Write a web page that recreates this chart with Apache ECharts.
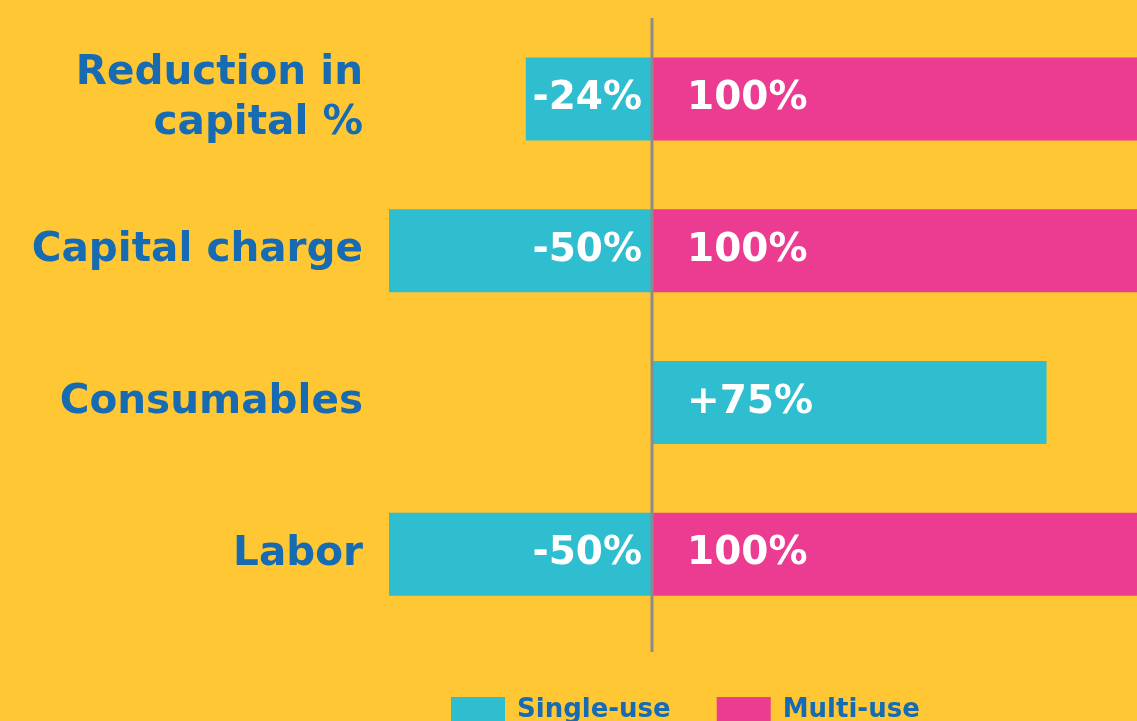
<!DOCTYPE html>
<html>
<head>
<meta charset="utf-8">
<script src="https://cdn.jsdelivr.net/npm/echarts@6/dist/echarts.min.js"></script>
<style>
  html, body { margin: 0; padding: 0; background: #FFC733; }
  #chart { width: 1137px; height: 721px; }
</style>
</head>
<body>
<div id="chart"></div>
<script>
const categories = ['Reduction in\ncapital %', 'Capital charge', 'Consumables', 'Labor']
const singleUse = [-24, -50, 75, -50]
const multiUse = [100, 100, null, 100]
const seriesNames = ['Single-use', 'Multi-use']

const FONT = '"DejaVu Sans", Verdana, sans-serif'
const BLUE = '#166BB3'
const CYAN = '#2EBECF'
const PINK = '#EB3C92'

const fmt = v => (v > 0 && v < 100 ? '+' : '') + v + '%'

const chart = echarts.init(document.getElementById('chart'))

// nudge the two-line label up
const labelPad = [[0, 0, 26, 0], [0, 0, 0, 0], [0, 0, 0, 0], [0, 0, 0, 0]]

const option = {
  backgroundColor: '#FFC733',
  animation: false,
  grid: { left: 389, right: 0, top: 23, bottom: 91 },
  legend: {
    data: seriesNames,
    left: 451,
    top: 697,
    padding: 0,
    itemWidth: 54,
    itemHeight: 27,
    itemGap: 46,
    icon: 'rect',
    textStyle: { color: BLUE, fontFamily: FONT, fontWeight: 'bold', fontSize: 26, padding: [0, 0, 0, 7] }
  },
  xAxis: {
    type: 'value',
    min: -50,
    max: 92.2,
    show: false
  },
  yAxis: {
    type: 'category',
    inverse: true,
    data: categories.map((c, i) => ({ value: c, textStyle: { padding: labelPad[i] } })),
    axisLine: { show: false },
    axisTick: { show: false },
    axisLabel: {
      margin: 26,
      color: BLUE,
      fontFamily: FONT,
      fontWeight: 'bold',
      fontSize: 40.5,
      lineHeight: 50,
      align: 'right'
    }
  },
  series: [
    {
      name: seriesNames[0],
      type: 'bar',
      stack: 'total',
      barWidth: 83,
      itemStyle: { color: CYAN },
      data: singleUse.map(v => ({
        value: v,
        label: v < 0 ? { position: 'insideRight', distance: 10 } : { position: 'insideLeft', distance: 35 }
      })),
      label: {
        show: true,
        color: '#fff',
        fontFamily: FONT,
        fontWeight: 'bold',
        fontSize: 39,
        formatter: p => fmt(p.value)
      }
    },
    {
      name: seriesNames[1],
      type: 'bar',
      stack: 'total',
      barWidth: 83,
      itemStyle: { color: PINK },
      data: multiUse,
      label: {
        show: true,
        position: 'insideLeft',
        distance: 35,
        color: '#fff',
        fontFamily: FONT,
        fontWeight: 'bold',
        fontSize: 39,
        formatter: p => fmt(p.value)
      }
    }
  ]
}

chart.setOption(option)

// vertical zero line, a bit taller than the grid
const zeroX = chart.convertToPixel({ xAxisIndex: 0 }, 0)
chart.setOption({
  graphic: [{
    type: 'line',
    shape: { x1: zeroX, y1: 18, x2: zeroX, y2: 652 },
    style: { stroke: '#8C8C8C', lineWidth: 3 },
    z: 10
  }]
})
</script>
</body>
</html>
